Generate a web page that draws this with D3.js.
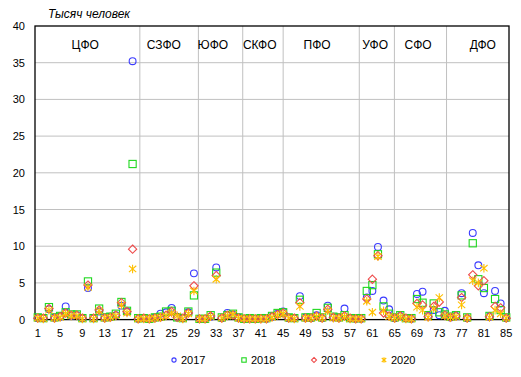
<!DOCTYPE html>
<html lang="ru">
<head>
  <meta charset="UTF-8" />
  <title>Тысяч человек по регионам</title>
  <style>
    body { margin: 0; background: #fff; font-family: "Liberation Sans", Arial, sans-serif; }
    svg { display: block; }
  </style>
</head>
<body>
  <svg id="chart"></svg>

  <script src="https://d3js.org/d3.v7.min.js"></script>
  <script>
    // regions are numbered 1..85, grouped by federal district
    const years = ["2017", "2018", "2019", "2020"];

    const v2017 = [
      0.2, 0.2, 1.4, 0.3, 0.4, 1.8, 0.5, 0.6, 0.2, 4.3, 0.2, 1.1, 0.3, 0.4, 0.6, 1.9, 1.1, 35.2,
      0.1, 0.2, 0.1, 0.3, 0.8, 1.0, 1.6, 0.4, 0.2, 1.0, 6.3,
      0.1, 0.1, 0.4, 7.1, 0.2, 0.9, 0.7, 0.3,
      0.1, 0.1, 0.1, 0.2, 0.1, 0.4, 0.8,
      1.1, 0.2, 0.2, 3.2, 0.3, 0.2, 0.6, 0.2, 1.9, 0.3, 0.3, 1.5, 0.2, 0.1,
      0.1, 3.0, 3.9, 9.9, 2.6, 1.4,
      0.2, 0.5, 0.2, 0.1, 3.5, 3.8, 0.5, 1.3, 0.6, 1.2,
      0.3, 0.5, 3.6, 0.2, 11.8, 7.4, 3.6, 0.4, 3.9, 2.2, 0.2
    ];
    const v2018 = [
      0.3, 0.2, 1.7, 0.3, 0.5, 1.0, 0.7, 0.7, 0.2, 5.2, 0.2, 1.5, 0.3, 0.4, 0.8, 2.4, 1.2, 21.2,
      0.2, 0.2, 0.1, 0.3, 0.4, 1.1, 1.2, 0.3, 0.2, 1.1, 3.3,
      0.1, 0.1, 0.6, 6.4, 0.3, 0.6, 0.8, 0.3,
      0.1, 0.2, 0.1, 0.2, 0.2, 0.5, 0.9,
      1.0, 0.3, 0.2, 2.7, 0.3, 0.3, 0.9, 0.3, 1.6, 0.4, 0.3, 0.6, 0.2, 0.2,
      0.2, 3.9, 4.7, 8.9, 1.8, 0.8,
      0.3, 0.6, 0.2, 0.2, 2.8, 2.3, 0.6, 2.2, 1.0, 0.7,
      0.4, 0.6, 3.3, 0.3, 10.4, 5.5, 4.3, 0.5, 2.8, 1.3, 0.3
    ];
    const v2019 = [
      0.2, 0.2, 1.5, 0.2, 0.4, 0.9, 0.6, 0.6, 0.2, 4.7, 0.2, 1.3, 0.2, 0.3, 0.6, 2.3, 1.1, 9.6,
      0.1, 0.2, 0.1, 0.2, 0.3, 0.6, 1.1, 0.3, 0.2, 0.9, 4.6,
      0.1, 0.1, 0.5, 6.0, 0.2, 0.6, 0.6, 0.2,
      0.1, 0.1, 0.1, 0.1, 0.1, 0.4, 0.7,
      0.9, 0.2, 0.2, 2.3, 0.2, 0.2, 0.5, 0.2, 1.4, 0.3, 0.2, 0.5, 0.2, 0.1,
      0.1, 2.8, 5.5, 8.7, 0.9, 0.5,
      0.2, 0.5, 0.2, 0.1, 2.2, 2.0, 0.4, 1.8, 2.4, 0.6,
      0.3, 0.5, 3.0, 0.2, 6.1, 4.6, 5.3, 0.4, 1.8, 1.6, 0.2
    ];
    const v2020 = [
      0.2, 0.1, 1.3, 0.2, 0.3, 0.8, 0.5, 0.5, 0.1, 4.4, 0.1, 1.2, 0.2, 0.3, 0.5, 2.0, 0.9, 6.9,
      0.1, 0.1, 0.1, 0.2, 0.3, 0.5, 0.9, 0.5, 0.1, 0.8, 3.9,
      0.1, 0.1, 0.4, 5.5, 0.2, 0.5, 0.7, 0.2,
      0.1, 0.1, 0.1, 0.1, 0.1, 0.3, 0.6,
      0.8, 0.2, 0.1, 1.8, 0.2, 0.2, 0.4, 0.2, 1.2, 0.2, 0.2, 0.4, 0.1, 0.1,
      0.1, 2.5, 1.0, 8.6, 1.2, 0.4,
      0.2, 0.4, 0.1, 0.1, 1.7, 1.3, 0.3, 1.5, 3.0, 0.5,
      0.3, 0.4, 2.0, 0.2, 5.3, 5.0, 7.0, 0.3, 1.3, 0.8, 0.2
    ];

    const districts = ["ЦФО", "СЗФО", "ЮФО", "СКФО", "ПФО", "УФО", "СФО", "ДФО"];
    // where the district names sit, in region-number units
    const districtLabelAt = [9.5, 23.6, 32.4, 40.8, 51.1, 61.5, 69.2, 80.8];
    // district separators, in region-number units
    const districtBreaks = [19.3, 29.8, 37.75, 45.0, 58.65, 64.95, 74.3];

    const yTicks = [0, 5, 10, 15, 20, 25, 30, 35, 40];
    const xTicks = d3.range(1, 86, 4);

    const W = 521, H = 377;
    const plot = { left: 35, right: 509, top: 26, bottom: 319.6 };

    const svg = d3.select("#chart").attr("width", W).attr("height", H);

    const x = d3.scaleLinear().domain([0.5, 85.5]).range([plot.left, plot.right]);
    const y = d3.scaleLinear().domain([0, 40]).range([plot.bottom, plot.top]);

    // horizontal grid
    svg.append("g")
      .selectAll("line")
      .data(yTicks.slice(1, -1))
      .join("line")
      .attr("x1", plot.left).attr("x2", plot.right)
      .attr("y1", d => y(d)).attr("y2", d => y(d))
      .attr("stroke", "#c0c0c0").attr("stroke-width", 1);

    // district separators
    svg.append("g")
      .selectAll("line")
      .data(districtBreaks)
      .join("line")
      .attr("x1", d => x(d)).attr("x2", d => x(d))
      .attr("y1", plot.top).attr("y2", plot.bottom)
      .attr("stroke", "#c0c0c0").attr("stroke-width", 1);

    // frame
    svg.append("rect")
      .attr("x", plot.left).attr("y", plot.top)
      .attr("width", plot.right - plot.left)
      .attr("height", plot.bottom - plot.top)
      .attr("fill", "none").attr("stroke", "#000").attr("stroke-width", 1.3);

    // y axis labels
    svg.append("g")
      .selectAll("text")
      .data(yTicks)
      .join("text")
      .attr("x", plot.left - 10)
      .attr("y", d => y(d) + 4)
      .attr("text-anchor", "end")
      .attr("font-size", "11px")
      .text(d => d);

    // x axis labels
    svg.append("g")
      .selectAll("text")
      .data(xTicks)
      .join("text")
      .attr("x", d => x(d))
      .attr("y", plot.bottom + 17)
      .attr("text-anchor", "middle")
      .attr("font-size", "11px")
      .text(d => d);

    svg.append("text")
      .attr("x", 48).attr("y", 18)
      .attr("font-size", "12px")
      .attr("font-style", "italic")
      .text("Тысяч человек");

    svg.append("g")
      .selectAll("text")
      .data(districts)
      .join("text")
      .attr("x", (d, i) => x(districtLabelAt[i]))
      .attr("y", plot.top + 23)
      .attr("text-anchor", "middle")
      .attr("font-size", "12px")
      .text(d => d);

    const starPath = s => `M0,${-s}V${s}M${-s * 0.85},${-s * 0.75}L${s * 0.85},${s * 0.75}M${-s * 0.85},${s * 0.75}L${s * 0.85},${-s * 0.75}`;

    const series = [
      { name: years[0], values: v2017, color: "#3a3aff", shape: "circle" },
      { name: years[1], values: v2018, color: "#1fd81f", shape: "square" },
      { name: years[2], values: v2019, color: "#ee4b4b", shape: "diamond" },
      { name: years[3], values: v2020, color: "#ffc000", shape: "star" }
    ];

    function marker(g, shape, color, s) {
      if (shape === "circle") {
        g.append("circle").attr("r", s * 0.95)
          .attr("fill", "none").attr("stroke", color).attr("stroke-width", 1.1);
      } else if (shape === "square") {
        g.append("rect").attr("x", -s).attr("y", -s)
          .attr("width", 2 * s).attr("height", 2 * s)
          .attr("fill", "none").attr("stroke", color).attr("stroke-width", 1.1);
      } else if (shape === "diamond") {
        g.append("path")
          .attr("d", `M0,${-s * 1.15}L${s * 1.15},0L0,${s * 1.15}L${-s * 1.15},0Z`)
          .attr("fill", "none").attr("stroke", color).attr("stroke-width", 1.1);
      } else {
        g.append("path").attr("d", starPath(s * 1.2))
          .attr("fill", "none").attr("stroke", color).attr("stroke-width", 1.1);
      }
    }

    series.forEach(sr => {
      const g = svg.append("g");
      sr.values.forEach((v, i) => {
        const m = g.append("g").attr("transform", `translate(${x(i + 1)},${y(v)})`);
        marker(m, sr.shape, sr.color, 3.6);
      });
    });

    // legend
    const legend = svg.append("g");
    series.forEach((sr, i) => {
      const lx = 174 + i * 70;
      const m = legend.append("g").attr("transform", `translate(${lx},360)`);
      marker(m, sr.shape, sr.color, 2.2);
      legend.append("text")
        .attr("x", lx + 7).attr("y", 364)
        .attr("font-size", "11px")
        .text(sr.name);
    });
  </script>
</body>
</html>
